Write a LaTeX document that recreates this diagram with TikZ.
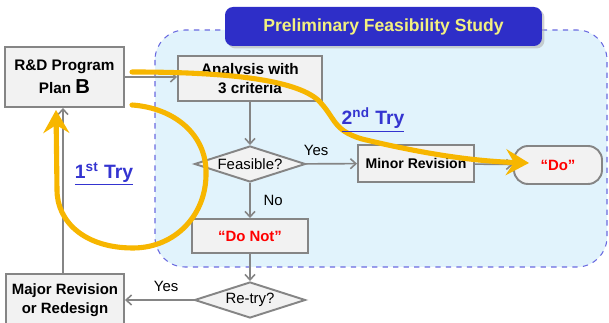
\documentclass[tikz,border=0pt]{standalone}
\usepackage{fontspec}
\setmainfont{Liberation Sans}
\usetikzlibrary{positioning,shapes.geometric,arrows.meta,shadows}

\definecolor{boxfill}{HTML}{F2F2F2}
\definecolor{boxline}{HTML}{858585}
\definecolor{trygold}{HTML}{F7B600}
\definecolor{titleblue}{HTML}{2E2EC8}
\definecolor{titletext}{HTML}{F2F080}
\definecolor{studyfill}{HTML}{E1F3FC}
\definecolor{studydash}{HTML}{6A6AE0}
\definecolor{tryblue}{HTML}{3434D0}

\begin{document}
\begin{tikzpicture}[x=0.02cm,y=-0.02cm,
    font=\fontsize{8.5}{10}\selectfont,
    box/.style={draw=boxline,fill=boxfill,line width=1.1pt,align=center,inner sep=0pt},
    decision/.style={diamond,draw=boxline,fill=boxfill,line width=1.1pt,aspect=3.1,inner sep=0pt,
        minimum width=2.22cm,minimum height=0.72cm},
    flow/.style={draw=boxline,line width=0.9pt,-{Straight Barb[length=1.1mm,width=2mm]}},
    trypath/.style={draw=trygold,line width=2.9pt,line cap=round,
        -{Stealth[length=4.6mm,width=5.2mm,inset=1.6mm]}},
    trylabel/.style={text=tryblue,font=\fontsize{11}{13}\selectfont\bfseries}]
\useasboundingbox (0,0) rectangle (609,323);

% study region and its title
\draw[studydash,fill=studyfill,dashed,line width=0.6pt,rounded corners=0.6cm] (155,30) rectangle (607,267);
\node[fill=titleblue,rounded corners=0.16cm,minimum width=6.34cm,minimum height=0.78cm,
    drop shadow={shadow xshift=0.05cm,shadow yshift=-0.05cm,fill=black!30,opacity=0.6},
    text=titletext,font=\fontsize{10}{12}\selectfont\bfseries] (title) at (383.5,26.5) {Preliminary Feasibility Study};

% boxes
\node[box,minimum width=2.38cm,minimum height=1.2cm,font=\fontsize{8.7}{13}\selectfont\bfseries] (rd) at (64.5,77)
    {R\&D Program\\Plan {\fontsize{11.5}{13}\selectfont B}};
\node[box,minimum width=2.88cm,minimum height=0.9cm,font=\fontsize{8.7}{11}\selectfont\bfseries] (ana) at (250,78.5)
    {Analysis with\\3 criteria};
\node[decision] (feas) at (250,164) {Feasible?};
\node[box,minimum width=2.32cm,minimum height=0.74cm,font=\fontsize{8}{10}\selectfont\bfseries] (minor) at (416,163.5)
    {Minor Revision};
\node[box,rounded corners=0.28cm,minimum width=1.76cm,minimum height=0.76cm,text=red,
    font=\fontsize{8.5}{10}\selectfont\bfseries] (do) at (558,165) {“Do”};
\node[box,minimum width=2.32cm,minimum height=0.68cm,text=red,
    font=\fontsize{8.5}{10}\selectfont\bfseries] (donot) at (250,236) {“Do Not”};
\node[decision] (retry) at (250,300) {Re-try?};
\node[box,minimum width=2.36cm,minimum height=1.04cm,font=\fontsize{8.5}{11}\selectfont\bfseries] (major) at (65,300)
    {Major Revision\\or Redesign};

% flow
\draw[flow] (rd.east) -- (ana.west |- rd.east);
\draw[flow] (ana) -- (feas);
\draw[flow] (feas) -- (minor) node[pos=0.2,above=1pt] {Yes};
\draw[flow] (feas) -- (donot) node[midway,right=4pt] {No};
\draw[flow] (minor) -- (do);
\draw[flow] (donot) -- (retry);
\draw[flow] (retry) -- (major) node[pos=0.4,above=1pt] {Yes};
\draw[flow] (major.north -| 63,0) -- (rd.south -| 63,0);

% tries
\coordinate (firstend) at (56,110);
\coordinate (secondend) at (529,163);
\draw[trypath] (132,105) .. controls (175,108) and (206,135) .. (206,172)
    .. controls (207,215) and (175,248) .. (133,248)
    .. controls (85,248) and (57,222) .. (57,190) -- (firstend);
\draw[trypath] (132,72) .. controls (230,72) and (295,80) .. (318,100)
    .. controls (336,118) and (332,130) .. (362,139)
    .. controls (420,153) and (470,161) .. (secondend);
\node[trylabel] (first) at (104,174) {\underline{1\textsuperscript{st} Try}};
\node[trylabel] (second) at (373,120) {\underline{2\textsuperscript{nd} Try}};
\end{tikzpicture}
\end{document}
